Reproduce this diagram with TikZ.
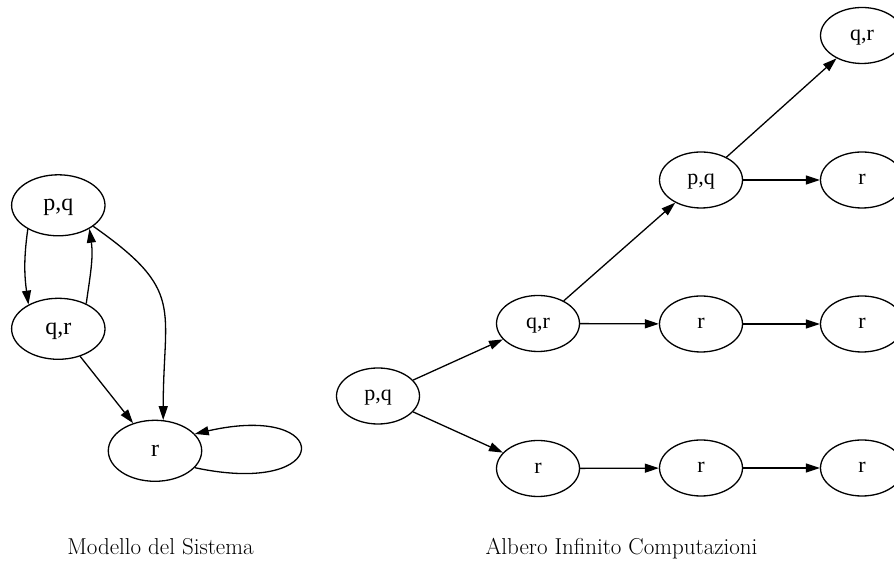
\documentclass[tikz,border=0pt]{standalone}
\usepackage{fontspec}
\newfontfamily\labelfont{Liberation Serif}
\usetikzlibrary{arrows.meta,shapes.geometric}

\begin{document}
\begin{tikzpicture}[x=1bp,y=1bp,
  state/.style={ellipse, draw, line width=1.3bp, inner sep=0pt,
    minimum width=93.4bp, minimum height=61bp,
    text height=16bp, text depth=5.4bp,
    font=\labelfont\fontsize{24bp}{24bp}\selectfont},
  tstate/.style={state, minimum width=83bp, minimum height=56bp,
    text height=14.8bp, text depth=4.8bp,
    font=\labelfont\fontsize{22bp}{22bp}\selectfont},
  edge/.style={-{Triangle[length=14bp,width=9bp]}, line width=1.3bp},
  caption/.style={anchor=base, font=\fontsize{23bp}{27bp}\selectfont}
]
\useasboundingbox (0,0) rectangle (894,566);

% ---- Modello del Sistema ----
\node[state] (m1) at (58.3,360.7) {p,q};
\node[state] (m2) at (58.3,237.2) {q,r};
\node[state] (m3) at (155,115.2) {r};

\draw[edge] (m1.218) to[out=262,in=98] (m2.141);
\draw[edge] (m2.42) to[out=82,in=-82] (m1.-37);
\draw[edge] (m1.-31) to[out=-35,in=90,looseness=1.4] (m3.75);
\draw[edge] (m2) -- (m3);
\draw[edge] (m3.-23.6) .. controls +(140,-30) and +(140,32) .. (m3.23.6);

\node[caption] (c1) at (160.5,11) {Modello del Sistema};

% ---- Albero Infinito Computazioni ----
\node[tstate] (t0) at (378,170) {p,q};
\node[tstate] (t1) at (538,242.5) {q,r};
\node[tstate] (t2) at (538,97.5) {r};
\node[tstate] (t3) at (701,386) {p,q};
\node[tstate] (t4) at (701,242) {r};
\node[tstate] (t5) at (701,98) {r};
\node[tstate] (t6) at (862,530.5) {q,r};
\node[tstate] (t7) at (862,386) {r};
\node[tstate] (t8) at (862,242) {r};
\node[tstate] (t9) at (862,98) {r};

\draw[edge] (t0) -- (t1);
\draw[edge] (t0) -- (t2);
\draw[edge] (t1) -- (t3);
\draw[edge] (t1) -- (t4);
\draw[edge] (t2) -- (t5);
\draw[edge] (t3) -- (t6);
\draw[edge] (t3) -- (t7);
\draw[edge] (t4) -- (t8);
\draw[edge] (t5) -- (t9);

\node[caption] (c2) at (621.5,11) {Albero Infinito Computazioni};
\end{tikzpicture}
\end{document}
